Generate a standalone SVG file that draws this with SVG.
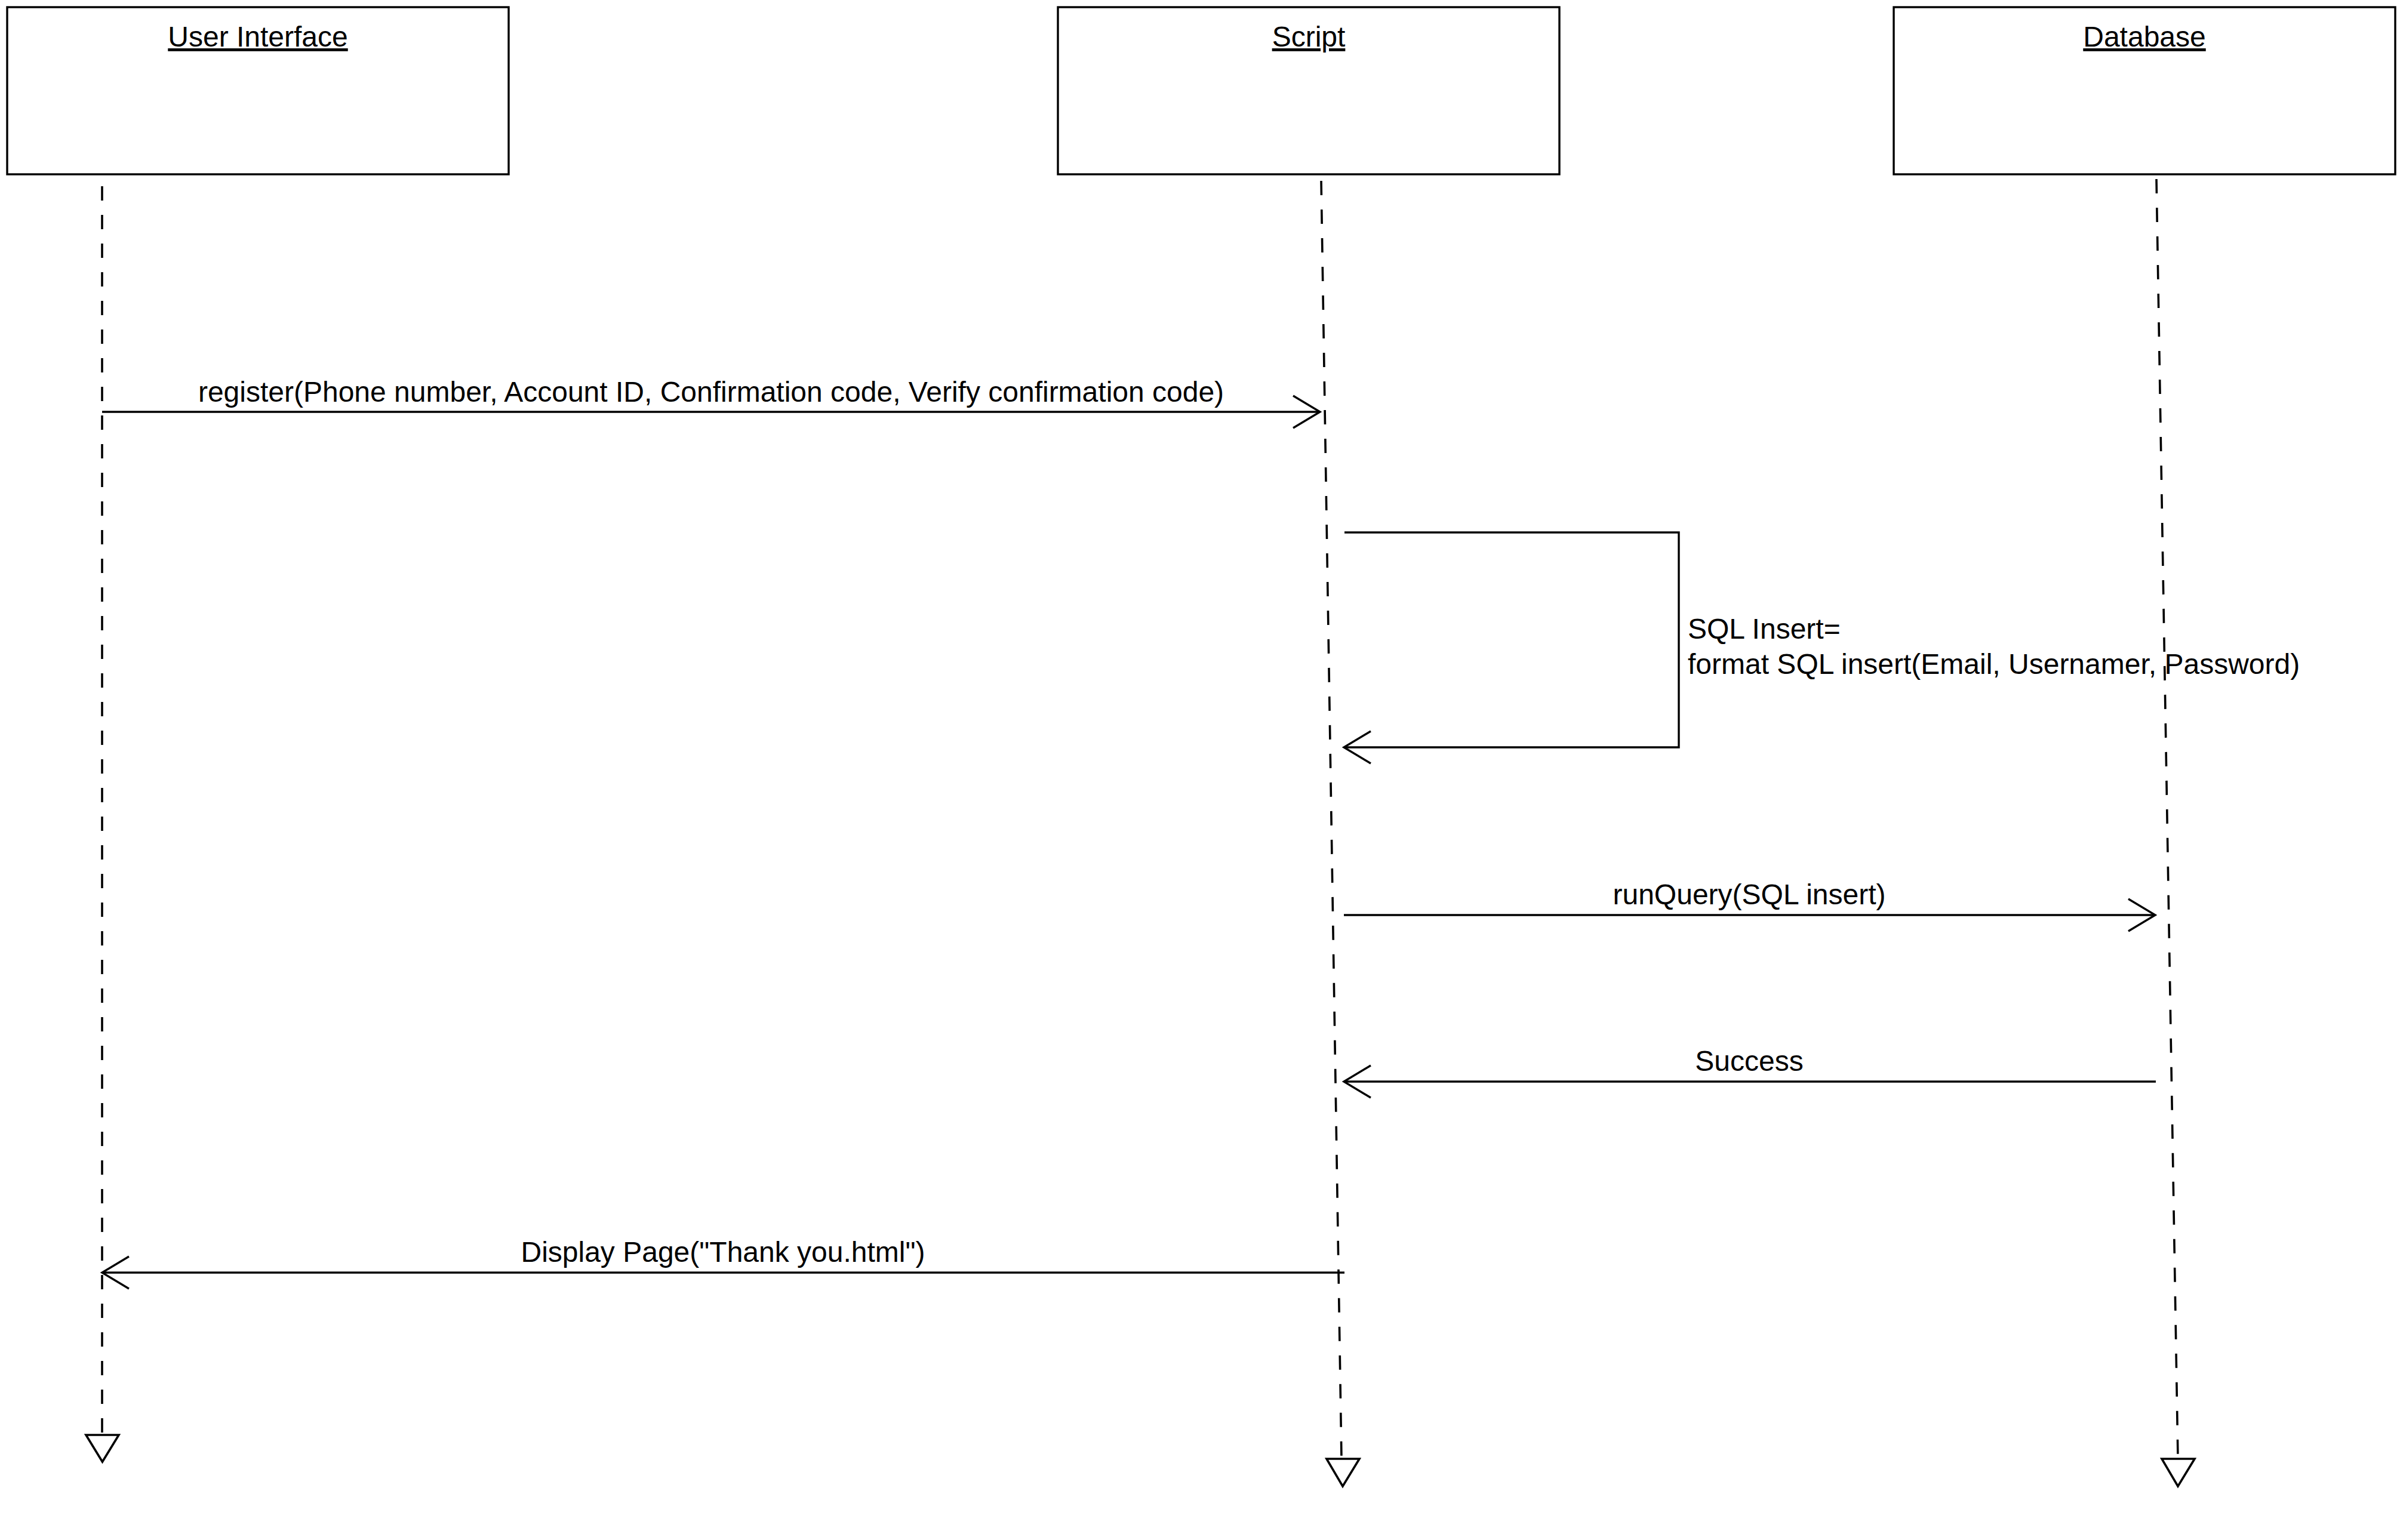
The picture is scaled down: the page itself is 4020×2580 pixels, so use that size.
<svg xmlns="http://www.w3.org/2000/svg" width="4020" height="2580" viewBox="0 0 4020 2580">
<style>
.bg{fill:#fff}
.box{fill:#fff;stroke:#000;stroke-width:3.4}
.title{font-family:"Liberation Sans",Arial,sans-serif;font-size:48px;text-anchor:middle;text-decoration:underline;fill:#000}
.label{font-family:"Liberation Sans",Arial,sans-serif;font-size:48px;fill:#000}
.mid{text-anchor:middle}
.life{stroke:#000;stroke-width:3.6;stroke-dasharray:24 24;fill:none}
.msg{stroke:#000;stroke-width:3.4;fill:none}
.end{fill:#fff;stroke:#000;stroke-width:3.6;stroke-linejoin:miter}
</style>
<defs>
<marker id="open" markerUnits="userSpaceOnUse" viewBox="-50 -32 56 64" refX="0" refY="0" markerWidth="56" markerHeight="64" orient="auto" overflow="visible">
<path d="M-45,-27 L0,0 L-45,27" fill="none" stroke="#000" stroke-width="3.4"/>
</marker>
</defs>
<rect class="bg" x="0" y="0" width="4020" height="2580"/>
<g id="ui">
<rect class="box" x="12" y="12" width="840" height="280"/>
<text class="title" x="432" y="78">User Interface</text>
<line class="life" x1="171" y1="312" x2="171" y2="2403"/>
<polygon class="end" points="144,2404 199,2404 171.5,2449"/>
</g>
<g id="script">
<rect class="box" x="1772" y="12" width="840" height="280"/>
<text class="title" x="2192" y="78">Script</text>
<line class="life" x1="2213" y1="303" x2="2247" y2="2443"/>
<polygon class="end" points="2222,2444 2277,2444 2249,2490"/>
</g>
<g id="database">
<rect class="box" x="3172" y="12" width="840" height="280"/>
<text class="title" x="3592" y="78">Database</text>
<line class="life" x1="3612" y1="300" x2="3648" y2="2443"/>
<polygon class="end" points="3621,2444 3676,2444 3648,2490"/>
</g>
<g id="connectors">
<line class="msg" x1="171" y1="690" x2="2211" y2="690" marker-end="url(#open)"/>
<text class="label mid" x="1191" y="673">register(Phone number, Account ID, Confirmation code, Verify confirmation code)</text>
<polyline class="msg" points="2252,892 2812,892 2812,1252 2251,1252" marker-end="url(#open)"/>
<text class="label" x="2827"><tspan x="2827" y="1070">SQL Insert=</tspan><tspan x="2827" y="1129">format SQL insert(Email, Usernamer, Password)</tspan></text>
<line class="msg" x1="2251" y1="1533" x2="3610" y2="1533" marker-end="url(#open)"/>
<text class="label mid" x="2930" y="1515">runQuery(SQL insert)</text>
<line class="msg" x1="3611" y1="1812" x2="2251" y2="1812" marker-end="url(#open)"/>
<text class="label mid" x="2930" y="1794">Success</text>
<line class="msg" x1="2252" y1="2132" x2="171" y2="2132" marker-end="url(#open)"/>
<text class="label mid" x="1211" y="2114">Display Page("Thank you.html")</text>
</g>
</svg>
